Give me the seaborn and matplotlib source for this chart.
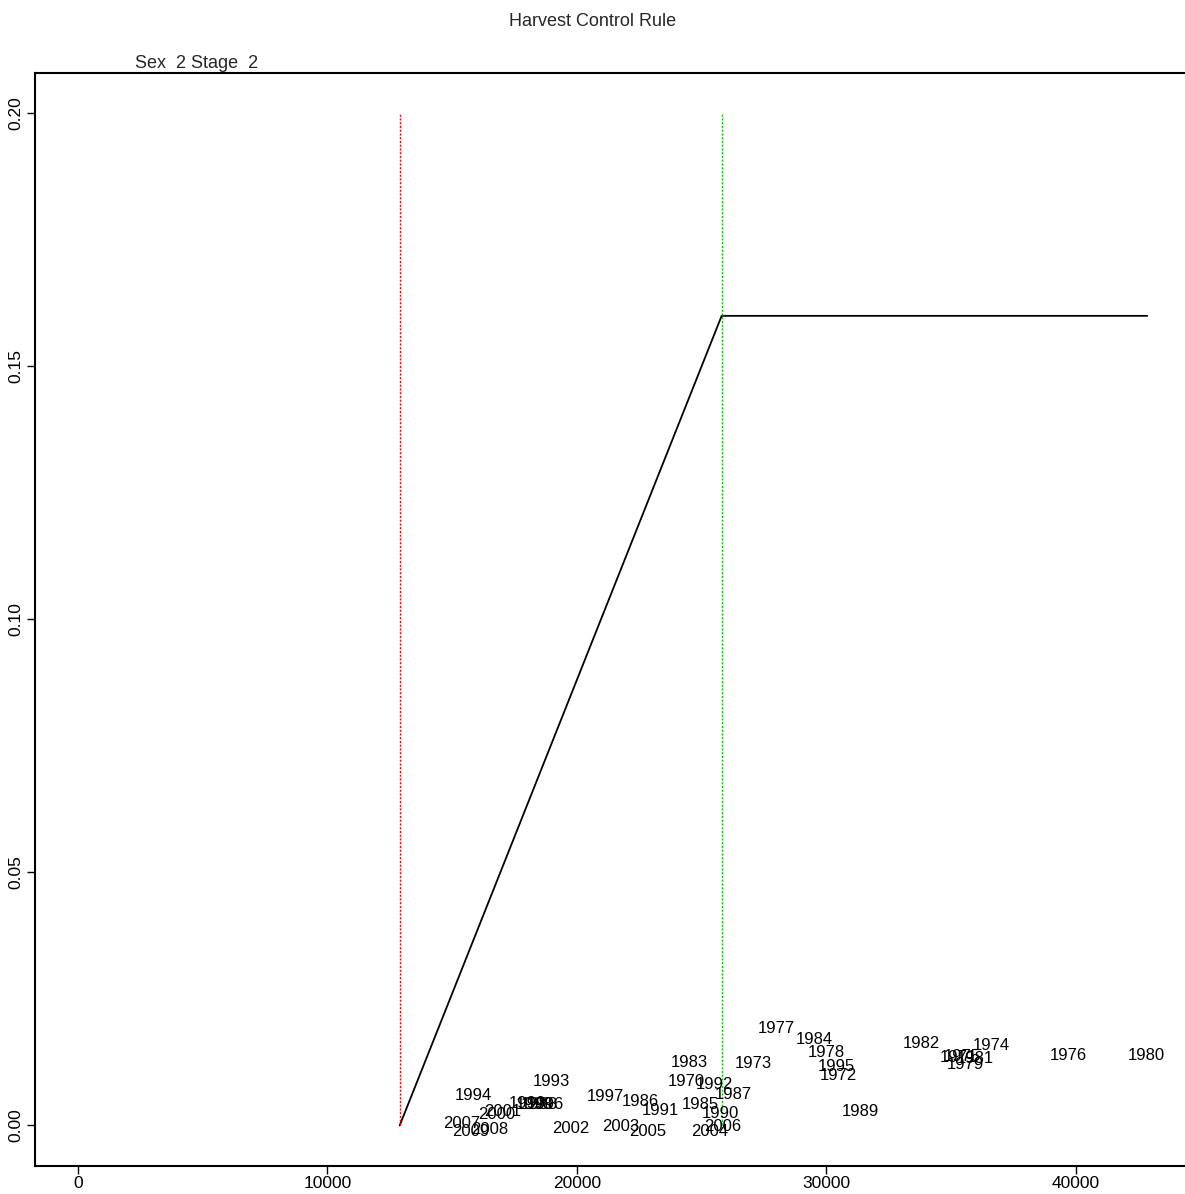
import matplotlib
matplotlib.use('Agg')
import matplotlib.pyplot as plt
import seaborn as sns
import pandas as pd

# --- Data: stock biomass (x) vs fishing mortality (y) by year ---
years = list(range(1970, 2010))
biomass = [24400, 35300, 30480, 27070, 36590, 35460, 39680, 27990, 30000, 35580,
           42810, 35980, 33810, 24500, 29520, 24940, 22530, 26260, 18510, 31360,
           25740, 23330, 25500, 18960, 15860, 30400, 18750, 21160, 18310, 18030,
           16790, 17030, 19760, 21770, 25340, 22850, 25860, 15380, 16510, 15740]
fmort = [0.0089, 0.0138, 0.0101, 0.0126, 0.0160, 0.0140, 0.0142, 0.0194, 0.0148, 0.0123,
         0.0142, 0.0136, 0.0164, 0.0128, 0.0172, 0.0045, 0.0051, 0.0065, 0.0045, 0.0030,
         0.0026, 0.0032, 0.0083, 0.0089, 0.0063, 0.0119, 0.0045, 0.0061, 0.0045, 0.0047,
         0.0024, 0.0030, -0.0004, 0.0000, -0.0009, -0.0008, 0.0000, 0.0006, -0.0006, -0.0008]

# harvest control rule
hcr_b = [12900, 25800, 42850]
hcr_f = [0.0, 0.16, 0.16]
b_lim = 12900
b_trig = 25800
ref_top = 0.20

x_ticks = [0, 10000, 20000, 30000, 40000]
y_ticks = [0.00, 0.05, 0.10, 0.15, 0.20]

sns.set_style("ticks")
plt.rcParams['font.family'] = ['Liberation Sans', 'DejaVu Sans']

fig = plt.figure(figsize=(11.85, 11.94), dpi=100)
ax = fig.add_axes([0.0295, 0.0235, 0.9747, 0.9154])

hcr = pd.DataFrame({"biomass": hcr_b, "F": hcr_f})
sns.lineplot(data=hcr, x="biomass", y="F", color="black", linewidth=1.3,
             sort=False, ax=ax)
ax.vlines(b_lim, 0, ref_top, colors="#FF0000", linestyles=(0, (1.5, 1.2)), linewidth=1.0)
ax.vlines(b_trig, 0, ref_top, colors="#00CD00", linestyles=(0, (1.5, 1.2)), linewidth=1.0)

for yr, b, f in zip(years, biomass, fmort):
    ax.text(b, f, str(yr), ha="center", va="center_baseline", fontsize=12, color="black")

ax.set_xlim(-1714, 44564)
ax.set_ylim(-0.008, 0.208)
ax.set_xticks(x_ticks)
ax.set_xticklabels([str(t) for t in x_ticks], fontsize=12.5)
ax.set_yticks(y_ticks)
ax.set_yticklabels([f"{t:.2f}" for t in y_ticks], fontsize=12.5, rotation=90, va="center")
ax.tick_params(direction="out", length=6, width=1.0, colors="black")
ax.tick_params(axis="x", pad=1)
ax.tick_params(axis="y", pad=2)
ax.set_xlabel("")
ax.set_ylabel("")
for s in ["left", "top", "bottom"]:
    ax.spines[s].set_linewidth(1.5)
    ax.spines[s].set_color("black")
ax.spines["right"].set_visible(False)

fig.text(0.5, 0.982, "Harvest Control Rule", ha="center", va="center", fontsize=13)
fig.text(0.114, 0.947, "Sex  2 Stage  2", ha="left", va="center", fontsize=13)

plt.savefig("out.png", dpi=100)
plt.close()
